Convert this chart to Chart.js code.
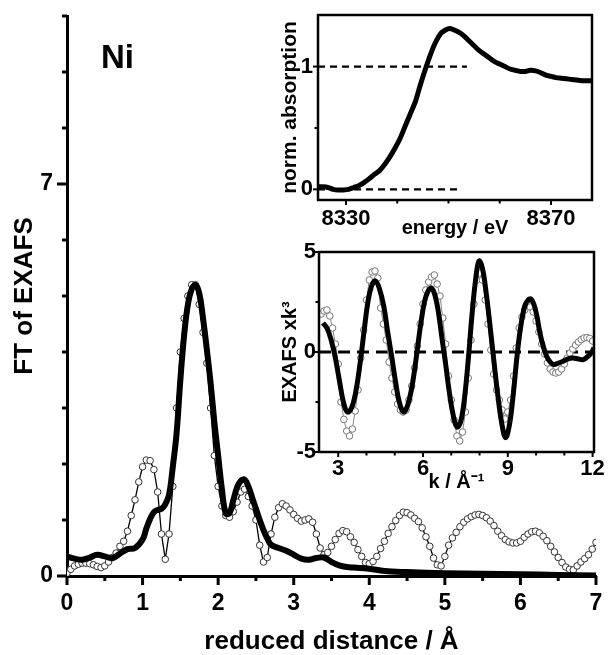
<!DOCTYPE html>
<html><head><meta charset="utf-8">
<script src="https://cdn.jsdelivr.net/npm/chart.js@4/dist/chart.umd.min.js"></script>
<style>
html,body{margin:0;padding:0;background:#fff;}
body{width:608px;height:655px;position:relative;overflow:hidden;}
canvas{position:absolute;}
</style></head><body>
<canvas id="main" width="608" height="655" style="left:0;top:0;width:608px;height:655px"></canvas>
<canvas id="xanes" width="338" height="245" style="left:270px;top:0;width:338px;height:245px"></canvas>
<canvas id="kspace" width="338" height="270" style="left:270px;top:225px;width:338px;height:270px"></canvas>
<script>
const FONT = "'Liberation Sans', Arial, Helvetica, sans-serif";

// ---- Main panel: FT of EXAFS vs reduced distance ----
const ftDataR = [0,0.05,0.1,0.15,0.2,0.25,0.3,0.35,0.4,0.45,
  0.5,0.55,0.6,0.65,0.7,0.75,0.8,0.85,0.9,0.95,
  1,1.05,1.1,1.15,1.2,1.25,1.3,1.35,1.4,1.45,
  1.5,1.55,1.6,1.65,1.7,1.75,1.8,1.85,1.9,1.95,
  2,2.05,2.1,2.15,2.2,2.25,2.3,2.35,2.4,2.45,
  2.5,2.55,2.6,2.65,2.7,2.75,2.8,2.85,2.9,2.95,
  3,3.05,3.1,3.15,3.2,3.25,3.3,3.35,3.4,3.45,
  3.5,3.55,3.6,3.65,3.7,3.75,3.8,3.85,3.9,3.95,
  4,4.05,4.1,4.15,4.2,4.25,4.3,4.35,4.4,4.45,
  4.5,4.55,4.6,4.65,4.7,4.75,4.8,4.85,4.9,4.95,
  5,5.05,5.1,5.15,5.2,5.25,5.3,5.35,5.4,5.45,
  5.5,5.55,5.6,5.65,5.7,5.75,5.8,5.85,5.9,5.95,
  6,6.05,6.1,6.15,6.2,6.25,6.3,6.35,6.4,6.45,
  6.5,6.55,6.6,6.65,6.7,6.75,6.8,6.85,6.9,6.95,
  7];
const ftDataV = [0.05,0.12,0.18,0.21,0.23,0.23,0.22,0.20,0.17,0.15,
  0.18,0.25,0.33,0.41,0.53,0.62,0.80,1.08,1.36,1.68,
  1.95,2.07,2.06,1.90,1.50,0.75,0.30,0.75,1.60,3.00,
  4.00,4.60,5.00,5.20,5.20,4.85,4.35,3.80,3.00,2.15,
  1.60,1.25,1.08,1.05,1.15,1.32,1.50,1.55,1.42,1.25,
  1.00,0.55,0.25,0.33,0.75,1.05,1.22,1.29,1.25,1.18,
  1.10,1.03,0.98,1.00,1.02,0.96,0.75,0.50,0.38,0.42,
  0.53,0.65,0.76,0.81,0.79,0.70,0.60,0.47,0.35,0.24,
  0.22,0.26,0.35,0.49,0.62,0.76,0.88,0.99,1.08,1.14,
  1.13,1.09,1.03,0.97,0.86,0.70,0.53,0.32,0.20,0.18,
  0.35,0.55,0.68,0.78,0.88,0.96,1.02,1.06,1.09,1.10,
  1.08,1.04,0.98,0.90,0.80,0.72,0.65,0.61,0.59,0.59,
  0.62,0.69,0.75,0.79,0.80,0.77,0.71,0.63,0.53,0.43,
  0.33,0.24,0.16,0.12,0.11,0.18,0.25,0.31,0.38,0.48,
  0.60];
const ftFitR = [0,0.1,0.2,0.3,0.4,0.5,0.6,0.7,0.8,0.9,1.0,
  1.05,1.1,1.15,1.2,1.25,1.3,1.35,1.4,1.45,1.5,
  1.55,1.6,1.65,1.7,1.75,1.8,1.85,1.9,1.95,2.0,
  2.05,2.1,2.15,2.2,2.25,2.3,2.35,2.4,2.45,2.5,
  2.55,2.6,2.65,2.7,
  2.8,2.9,3.0,3.1,3.2,3.3,3.4,3.5,3.6,3.7,3.8,
  4.0,4.2,4.5,5.0,5.5,6.0,6.5,7.0];
const ftFitV = [0.35,0.31,0.29,0.33,0.38,0.35,0.32,0.40,0.48,0.50,0.65,
  0.85,1.02,1.14,1.18,1.20,1.28,1.45,1.95,2.55,3.50,
  4.30,4.85,5.12,5.20,5.05,4.60,4.05,3.45,2.75,2.15,
  1.55,1.12,1.12,1.35,1.58,1.70,1.72,1.60,1.40,1.20,
  1.00,0.82,0.67,0.56,
  0.50,0.45,0.38,0.31,0.29,0.32,0.33,0.25,0.19,0.16,0.15,
  0.13,0.09,0.07,0.05,0.04,0.03,0.02,0.01];
const mainXTicks = [0,0.5,1,1.5,2,2.5,3,3.5,4,4.5,5,5.5,6,6.5,7];
const mainXLabels = [0,1,2,3,4,5,6,7];
const mainYTicks = [0,1,2,3,4,5,6,7,8,9,10];
const mainYLabels = [0,7];

// ---- Inset 1: XANES ----
const xanesE = [8324.6,8325.5,8326.5,8327.5,8328.5,8329.5,8330.5,8331.5,8332.5,8333.5,
  8334.5,8335.5,8336.5,8337.5,8338.5,8339.5,8340.5,8341.5,8342.5,8343.5,
  8344.5,8345.5,8346.5,8347.5,8348.5,8349.5,8350.2,
  8351,8352,8353,8354,8355,8356,8357,8358,8359,8360,
  8361,8362,8363,8364,8365,8366,8367,8368,8369,8370,
  8371,8372,8373,8374,8375,8376,8377,8378];
const xanesMu = [0.02,0.02,0.015,0.0,-0.006,-0.005,0.0,0.015,0.03,0.055,
  0.085,0.12,0.15,0.20,0.26,0.33,0.41,0.51,0.61,0.71,
  0.85,0.98,1.10,1.20,1.27,1.30,1.31,
  1.30,1.28,1.25,1.21,1.17,1.13,1.10,1.07,1.04,1.02,
  1.00,0.98,0.97,0.96,0.96,0.97,0.965,0.95,0.93,0.92,
  0.91,0.905,0.90,0.895,0.89,0.885,0.885,0.885];
const xanesLevelOneE = [8324.54, 8353.6];
const xanesLevelOneV = [1, 1];
const xanesLevelZeroE = [8324.54, 8352.5];
const xanesLevelZeroV = [0, 0];
const xanesXTicks = [8330,8340,8350,8360,8370];
const xanesXLabels = [8330,8370];
const xanesYTicks = [0,0.5,1];
const xanesYLabels = [0,1];

// ---- Inset 2: EXAFS in k-space ----
const kDataK = [2.4,2.5,2.6,2.7,2.8,2.9,
  3.0,3.1,3.2,3.3,3.4,3.5,3.6,3.7,3.8,3.9,
  4.0,4.1,4.2,4.3,4.4,4.5,4.6,4.7,4.8,4.9,
  5.0,5.1,5.2,5.3,5.4,5.5,5.6,5.7,5.8,5.9,
  6.0,6.1,6.2,6.3,6.4,6.5,6.6,6.7,6.8,6.9,
  7.0,7.1,7.2,7.3,7.4,7.5,7.6,7.7,7.8,7.9,
  8.0,8.1,8.2,8.3,8.4,8.5,8.6,8.7,8.8,8.9,
  9.0,9.1,9.2,9.3,9.4,9.5,9.6,9.7,9.8,9.9,
  10.0,10.1,10.2,10.3,10.4,10.5,10.6,10.7,10.8,10.9,
  11.0,11.1,11.2,11.3,11.4,11.5,11.6,11.7,11.8,11.9,
  12.0];
const kDataV = [1.9,2.05,2.1,1.8,1.2,0.4,
  -0.6,-2.5,-3.37,-3.95,-4.2,-3.85,-2.95,-1.9,-0.3,1.1,
  2.6,3.6,4.0,4.05,3.7,2.2,1.4,0.6,-0.5,-1.3,
  -2.0,-2.6,-2.9,-3.0,-2.9,-2.4,-1.7,-0.8,0.3,1.4,
  2.4,3.1,3.5,3.75,3.85,3.4,2.8,1.7,0.4,-1.2,
  -2.4,-3.4,-4.2,-4.45,-4.0,-3.0,-1.3,0.6,2.4,3.6,
  3.95,3.6,2.6,1.4,0.1,-1.1,-1.9,-2.4,-2.9,-3.35,
  -3.0,-2.4,-1.2,0.2,1.2,1.75,2.1,2.35,2.25,2.0,
  1.55,1.0,0.4,-0.1,-0.55,-0.85,-1.0,-1.05,-1.0,-0.85,
  -0.6,-0.3,-0.05,0.15,0.35,0.5,0.62,0.7,0.72,0.68,
  0.55];
const kFitK = [2.46,2.6,2.75,2.9,3.05,3.2,3.33,3.47,3.62,3.78,
  3.92,4.05,4.18,4.31,4.45,4.61,4.75,4.9,5.03,5.16,
  5.31,5.45,5.6,5.75,5.9,6.05,6.18,6.3,6.43,6.55,
  6.67,6.8,6.93,7.06,7.2,7.33,7.46,7.6,7.73,7.86,
  7.98,8.1,8.24,8.38,8.52,8.65,8.79,8.92,9.05,9.18,
  9.32,9.45,9.6,9.73,9.82,9.92,10.03,10.13,10.25,10.37,
  10.5,10.62,10.8,10.96,11.15,11.31,11.5,11.67,11.85,11.96,
  12.05];
const kFitV = [1.45,1.2,0.6,-0.3,-1.5,-2.6,-3.0,-2.8,-2.0,-0.5,
  1.1,2.5,3.3,3.56,3.2,2.3,1.0,-0.3,-1.5,-2.5,
  -3.0,-2.7,-1.8,-0.4,1.2,2.5,3.05,3.2,2.8,1.95,
  0.7,-0.6,-2.0,-3.1,-3.75,-3.5,-2.4,-0.4,1.8,3.6,
  4.55,4.2,2.9,1.2,-0.6,-2.2,-3.6,-4.28,-3.7,-2.3,
  -0.3,1.2,2.3,2.62,2.65,2.4,1.8,1.0,0.3,-0.2,
  -0.5,-0.62,-0.55,-0.46,-0.33,-0.3,-0.35,-0.38,-0.2,-0.04,
  0.2];
const kZeroK = [2.32, 12.05];
const kZeroV = [0, 0];
const kXTicks = [3,4,5,6,7,8,9,10,11,12];
const kXLabels = [3,6,9,12];
const kYTicks = [-5,-2.5,0,2.5,5];
const kYLabels = [-5,0,5];

// ---- helpers ----
const pts = (xs, ys) => xs.map((x, i) => ({x: x, y: ys[i]}));

const axisTicks = {
  id: 'axisTicks',
  afterDraw(chart, args, o) {
    const ctx = chart.ctx, a = chart.chartArea;
    ctx.save();
    ctx.strokeStyle = '#000';
    if (o.box) {
      ctx.lineWidth = o.box;
      ctx.strokeRect(a.left, a.top, a.right - a.left, a.bottom - a.top);
    }
    ['x', 'y'].forEach(id => {
      const s = chart.scales[id], c = o[id];
      ctx.lineWidth = c.width;
      s.ticks.forEach(t => {
        const len = c.labels.includes(t.value) ? c.major : c.minor;
        const p = s.getPixelForValue(t.value);
        ctx.beginPath();
        if (id === 'x') { ctx.moveTo(p, a.bottom); ctx.lineTo(p, a.bottom + len); }
        else { ctx.moveTo(a.left, p); ctx.lineTo(a.left - len, p); }
        ctx.stroke();
      });
    });
    ctx.restore();
  }
};

const panelText = {
  id: 'panelText',
  afterDraw(chart, args, o) {
    if (!o.text) return;
    const ctx = chart.ctx;
    ctx.save();
    ctx.fillStyle = '#000';
    ctx.font = 'bold ' + o.size + 'px ' + FONT;
    ctx.textBaseline = 'alphabetic';
    ctx.fillText(o.text, o.x, o.y);
    ctx.restore();
  }
};

function linScale(cfg) {
  return {
    type: 'linear', min: cfg.min, max: cfg.max, position: cfg.position,
    afterBuildTicks(s) { s.ticks = cfg.ticks.map(v => ({value: v})); },
    afterFit(s) {
      if (cfg.position === 'bottom') s.height = cfg.size; else s.width = cfg.size;
      s.paddingLeft = 0; s.paddingRight = 0; s.paddingTop = 0; s.paddingBottom = 0;
    },
    grid: {display: false, drawTicks: false},
    border: {display: cfg.border > 0, width: cfg.border, color: '#000'},
    ticks: {
      autoSkip: false, maxRotation: 0, minRotation: 0, padding: cfg.pad, color: '#000',
      font: {family: FONT, size: cfg.tickSize, weight: 'bold', lineHeight: 1},
      callback: v => cfg.labels.includes(v) ? String(v) : ''
    },
    title: {
      display: true, text: cfg.title, color: '#000',
      font: {family: FONT, size: cfg.titleSize, weight: 'bold', lineHeight: 1},
      padding: cfg.titlePad
    }
  };
}

const common = {
  responsive: false, animation: false, devicePixelRatio: 1,
  events: [],
};

// ---- main chart ----
new Chart(document.getElementById('main'), {
  type: 'line',
  data: {datasets: [
    {label: 'fit', data: pts(ftFitR, ftFitV), borderColor: '#000', borderWidth: 6,
     pointRadius: 0, tension: 0.4, fill: false, borderJoinStyle: 'round', borderCapStyle: 'round'},
    {label: 'data', data: pts(ftDataR, ftDataV), borderColor: '#000', borderWidth: 1.3,
     pointRadius: 3.3, pointBackgroundColor: '#fff', pointBorderColor: '#333', pointBorderWidth: 1,
     tension: 0, fill: false}
  ]},
  options: Object.assign({}, common, {
    layout: {padding: {top: 16, right: 12, left: 0, bottom: 0}},
    plugins: {
      legend: {display: false}, tooltip: {enabled: false},
      axisTicks: {box: 0, x: {labels: mainXLabels, major: 9, minor: 5, width: 3},
                          y: {labels: mainYLabels, major: 10, minor: 5, width: 3}},
      panelText: {text: 'Ni', x: 101, y: 68, size: 33}
    },
    scales: {
      x: linScale({min: 0, max: 7, position: 'bottom', size: 79, ticks: mainXTicks, labels: mainXLabels,
                   pad: 16, tickSize: 23, title: 'reduced distance / Å', titleSize: 26,
                   titlePad: {top: 0, bottom: 0}, border: 3}),
      y: linScale({min: 0, max: 10, position: 'left', size: 67, ticks: mainYTicks, labels: mainYLabels,
                   pad: 14, tickSize: 23, title: 'FT of EXAFS', titleSize: 26,
                   titlePad: {top: 12, bottom: 0}, border: 3})
    }
  }),
  plugins: [axisTicks, panelText]
});

// ---- XANES inset ----
new Chart(document.getElementById('xanes'), {
  type: 'line',
  data: {datasets: [
    {label: 'XANES', data: pts(xanesE, xanesMu), borderColor: '#000', borderWidth: 5,
     pointRadius: 0, tension: 0.3, fill: false, borderJoinStyle: 'round'},
    {label: 'edge jump 1', data: pts(xanesLevelOneE, xanesLevelOneV), borderColor: '#000', borderWidth: 2.3,
     borderDash: [7, 5], pointRadius: 0, fill: false},
    {label: 'edge jump 0', data: pts(xanesLevelZeroE, xanesLevelZeroV), borderColor: '#000', borderWidth: 2.3,
     borderDash: [7, 5], pointRadius: 0, fill: false}
  ]},
  options: Object.assign({}, common, {
    layout: {padding: {top: 15, right: 16, left: 0, bottom: 0}},
    plugins: {
      legend: {display: false}, tooltip: {enabled: false},
      axisTicks: {box: 2.5, x: {labels: xanesXLabels, major: 5, minor: 3.5, width: 2},
                            y: {labels: xanesYLabels, major: 5, minor: 3.5, width: 2}}
    },
    scales: {
      x: linScale({min: 8324.54, max: 8378, position: 'bottom', size: 45, ticks: xanesXTicks, labels: xanesXLabels,
                   pad: 8, tickSize: 22, title: 'energy / eV', titleSize: 20,
                   titlePad: {top: 0, bottom: 7}, border: 0}),
      y: linScale({min: -0.087, max: 1.42, position: 'left', size: 48, ticks: xanesYTicks, labels: xanesYLabels,
                   pad: 5, tickSize: 22, title: 'norm. absorption', titleSize: 21,
                   titlePad: {top: 10, bottom: 0}, border: 0})
    }
  }),
  plugins: [axisTicks]
});

// ---- k-space inset ----
new Chart(document.getElementById('kspace'), {
  type: 'line',
  data: {datasets: [
    {label: 'fit', data: pts(kFitK, kFitV), borderColor: '#000', borderWidth: 5,
     pointRadius: 0, tension: 0.4, fill: false, borderJoinStyle: 'round'},
    {label: 'data', data: pts(kDataK, kDataV), borderColor: '#888', borderWidth: 1,
     pointRadius: 3.3, pointBackgroundColor: '#fff', pointBorderColor: '#777', pointBorderWidth: 1,
     tension: 0, fill: false},
    {label: 'zero', data: pts(kZeroK, kZeroV), borderColor: '#000', borderWidth: 3,
     borderDash: [12, 7], pointRadius: 0, fill: false}
  ]},
  options: Object.assign({}, common, {
    layout: {padding: {top: 27, right: 14, left: 0, bottom: 0}},
    plugins: {
      legend: {display: false}, tooltip: {enabled: false},
      axisTicks: {box: 2.5, x: {labels: kXLabels, major: 5, minor: 3.5, width: 2},
                            y: {labels: kYLabels, major: 5, minor: 3.5, width: 2}}
    },
    scales: {
      x: linScale({min: 2.32, max: 12.05, position: 'bottom', size: 43, ticks: kXTicks, labels: kXLabels,
                   pad: 6, tickSize: 22, title: 'k / Å⁻¹', titleSize: 20,
                   titlePad: {top: 0, bottom: 3}, border: 0}),
      y: linScale({min: -5, max: 5, position: 'left', size: 49, ticks: kYTicks, labels: kYLabels,
                   pad: 3, tickSize: 22, title: 'EXAFS xk³', titleSize: 20,
                   titlePad: {top: 10, bottom: 0}, border: 0})
    }
  }),
  plugins: [axisTicks]
});
</script>
</body></html>
